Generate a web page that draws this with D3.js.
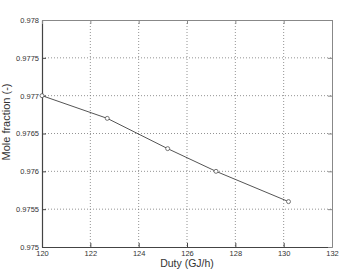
<!DOCTYPE html>
<html>
<head>
<meta charset="utf-8">
<script src="https://cdn.jsdelivr.net/npm/d3@7"></script>
<style>
  body { margin: 0; background: #fff; overflow: hidden; }
  text { font-family: "Liberation Sans", Arial, sans-serif; fill: #333; }
</style>
</head>
<body>
<div class="chart"></div>
<script>
const duty = [120, 122.7, 125.2, 127.2, 130.2];
const moleFraction = [0.9770, 0.9767, 0.9763, 0.9760, 0.9756];
const xTicks = [120, 122, 124, 126, 128, 130, 132];
const yTicks = [0.975, 0.9755, 0.976, 0.9765, 0.977, 0.9775, 0.978];

const W = 339, H = 271;
const m = { left: 42, right: 7, top: 20, bottom: 24 };

const svg = d3.select(".chart").append("svg")
  .attr("width", W)
  .attr("height", H)
  .style("display", "block");

const x = d3.scaleLinear().domain([120, 132]).range([m.left, W - m.right]);
const y = d3.scaleLinear().domain([0.975, 0.978]).range([H - m.bottom, m.top]);

// grid
svg.append("g").selectAll("line")
  .data(xTicks.slice(1, -1))
  .enter().append("line")
  .attr("x1", d => x(d)).attr("x2", d => x(d))
  .attr("y1", y(0.978)).attr("y2", y(0.975))
  .attr("stroke", "#777").attr("stroke-width", 0.8)
  .attr("stroke-dasharray", "1,2");

svg.append("g").selectAll("line")
  .data(yTicks.slice(1, -1))
  .enter().append("line")
  .attr("x1", x(120)).attr("x2", x(132))
  .attr("y1", d => y(d)).attr("y2", d => y(d))
  .attr("stroke", "#777").attr("stroke-width", 0.8)
  .attr("stroke-dasharray", "1,2");

// axes (ticks inward, on all sides)
const fmtY = d => d3.format(".4~f")(d);
const axB = svg.append("g")
  .attr("transform", "translate(0," + y(0.975) + ")")
  .call(d3.axisBottom(x).tickValues(xTicks).tickSizeInner(-4).tickSizeOuter(0).tickPadding(6));
const axL = svg.append("g")
  .attr("transform", "translate(" + x(120) + ",0)")
  .call(d3.axisLeft(y).tickValues(yTicks).tickFormat(fmtY).tickSizeInner(-4).tickSizeOuter(0).tickPadding(3));
const axT = svg.append("g")
  .attr("transform", "translate(0," + y(0.978) + ")")
  .call(d3.axisTop(x).tickValues(xTicks).tickSizeInner(-4).tickSizeOuter(0).tickFormat(""));
const axR = svg.append("g")
  .attr("transform", "translate(" + x(132) + ",0)")
  .call(d3.axisRight(y).tickValues(yTicks).tickSizeInner(-4).tickSizeOuter(0).tickFormat(""));

[axB, axL].forEach(g => {
  g.select(".domain").attr("stroke", "#444").attr("stroke-width", 1.2);
  g.selectAll(".tick line").attr("stroke", "#444");
  g.selectAll("text").attr("font-size", 7.5).attr("fill", "#222")
    .attr("font-family", "Liberation Sans, Arial, sans-serif");
});
[axT, axR].forEach(g => {
  g.select(".domain").attr("stroke", "#888").attr("stroke-width", 1);
  g.selectAll(".tick line").attr("stroke", "#888");
});
axB.selectAll("text").attr("dy", "0.4em");

// line + markers
const line = d3.line().x((d, i) => x(duty[i])).y(d => y(d));
svg.append("path")
  .datum(moleFraction)
  .attr("d", line)
  .attr("fill", "none")
  .attr("stroke", "#555")
  .attr("stroke-width", 1);

svg.append("g").selectAll("circle")
  .data(moleFraction)
  .enter().append("circle")
  .attr("cx", (d, i) => x(duty[i]))
  .attr("cy", d => y(d))
  .attr("r", 2)
  .attr("fill", "#fff")
  .attr("stroke", "#555")
  .attr("stroke-width", 0.8);

// labels
svg.append("text")
  .attr("x", (x(120) + x(132)) / 2)
  .attr("y", 267)
  .attr("text-anchor", "middle")
  .attr("font-size", 10.5)
  .text("Duty (GJ/h)");

svg.append("text")
  .attr("transform", "translate(6,122) rotate(-90)")
  .attr("text-anchor", "middle")
  .attr("dy", "0.35em")
  .attr("font-size", 11)
  .text("Mole fraction (-)");
</script>
</body>
</html>
